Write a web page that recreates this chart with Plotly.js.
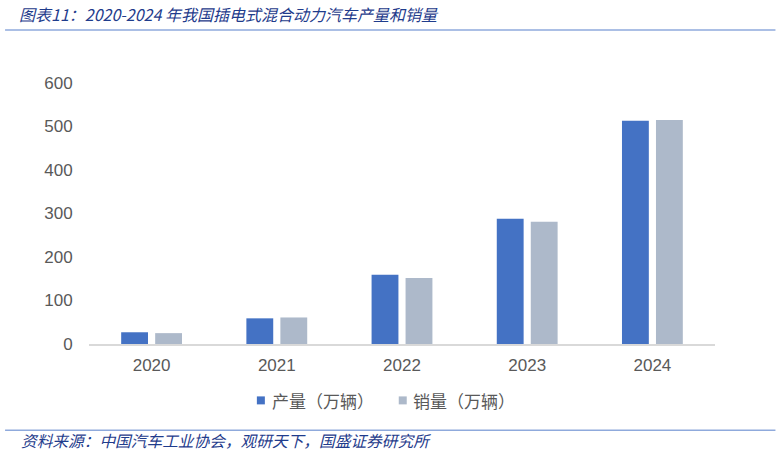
<!DOCTYPE html>
<html>
<head>
<meta charset="utf-8">
<script src="https://cdn.plot.ly/plotly-3.0.1.min.js"></script>
<style>html,body{margin:0;padding:0;background:#fff;}#chart{width:781px;height:454px;}</style>
</head>
<body>
<div id="chart"></div>
<script>
const years = ['2020', '2021', '2022', '2023', '2024'];
const production = [27, 59, 159, 288, 513];
const sales = [25, 61, 152, 281, 515];
const yTicks = [0, 100, 200, 300, 400, 500, 600];
const seriesNames = ['产量（万辆）', '销量（万辆）'];
const seriesColors = ['#4472C4', '#ADB9CA'];
const titleText = '图表11：2020-2024 年我国插电式混合动力汽车产量和销量';
const sourceText = '资料来源：中国汽车工业协会，观研天下，国盛证券研究所';

const ML = 89, MB = 109.5, PW = 626.5, PH = 261.5, BOTTOM = 344.5;
const px = x => (x - ML) / PW;
const py = y => (BOTTOM - y) / PH;

const tickFont = {family: 'Arial, Liberation Sans, sans-serif', size: 17, color: '#595959'};
const traces = [
  {type: 'bar', x: years, y: production, name: seriesNames[0], marker: {color: seriesColors[0]}},
  {type: 'bar', x: years, y: sales, name: seriesNames[1], marker: {color: seriesColors[1]}}
];
const legendItems = [{sx: 257, tx: 270}, {sx: 399, tx: 411}];
const shapes = [
  {type: 'line', xref: 'paper', yref: 'paper', x0: px(5), x1: px(776), y0: py(30), y1: py(30),
   line: {color: '#8FAADC', width: 1.5}},
  {type: 'line', xref: 'paper', yref: 'paper', x0: px(5), x1: px(776), y0: py(431), y1: py(431),
   line: {color: '#8FAADC', width: 1.5}}
];
const annotations = [
  {xref: 'paper', yref: 'paper', x: px(17), y: py(14), xanchor: 'left', yanchor: 'middle',
   text: '<i>' + titleText + '</i>', showarrow: false,
   font: {family: 'Noto Sans CJK SC, sans-serif', size: 16, color: '#1F3C8C'}},
  {xref: 'paper', yref: 'paper', x: px(19), y: py(441), xanchor: 'left', yanchor: 'middle',
   text: '<i>' + sourceText + '</i>', showarrow: false,
   font: {family: 'Noto Sans CJK SC, sans-serif', size: 15.7, color: '#1F3C8C'}}
];
legendItems.forEach((it, i) => {
  shapes.push({type: 'rect', xref: 'paper', yref: 'paper', x0: px(it.sx), x1: px(it.sx + 8),
    y0: py(405), y1: py(397), fillcolor: seriesColors[i], line: {width: 0}});
  annotations.push({xref: 'paper', yref: 'paper', x: px(it.tx), y: py(401), xanchor: 'left', yanchor: 'middle',
    text: seriesNames[i], showarrow: false,
    font: {family: 'Noto Sans CJK SC, sans-serif', size: 17, color: '#595959'}});
});

const layout = {
  width: 781, height: 454,
  margin: {l: ML, r: 781 - ML - PW, t: 83, b: MB},
  paper_bgcolor: '#fff', plot_bgcolor: '#fff',
  barmode: 'group', bargap: 0.457, bargroupgap: 0.21,
  showlegend: false,
  xaxis: {type: 'category', tickvals: years, ticktext: years, showgrid: false, zeroline: false,
    showline: true, linecolor: '#D9D9D9', linewidth: 1.5, ticks: 'outside', ticklen: 5,
    tickcolor: 'rgba(0,0,0,0)', tickfont: tickFont},
  yaxis: {range: [0, 600], tickvals: yTicks, showgrid: false, zeroline: false, showline: false,
    ticks: 'outside', ticklen: 12, tickcolor: 'rgba(0,0,0,0)', tickfont: tickFont},
  shapes: shapes,
  annotations: annotations
};
Plotly.newPlot('chart', traces, layout, {displayModeBar: false, staticPlot: true});
</script>
</body>
</html>
